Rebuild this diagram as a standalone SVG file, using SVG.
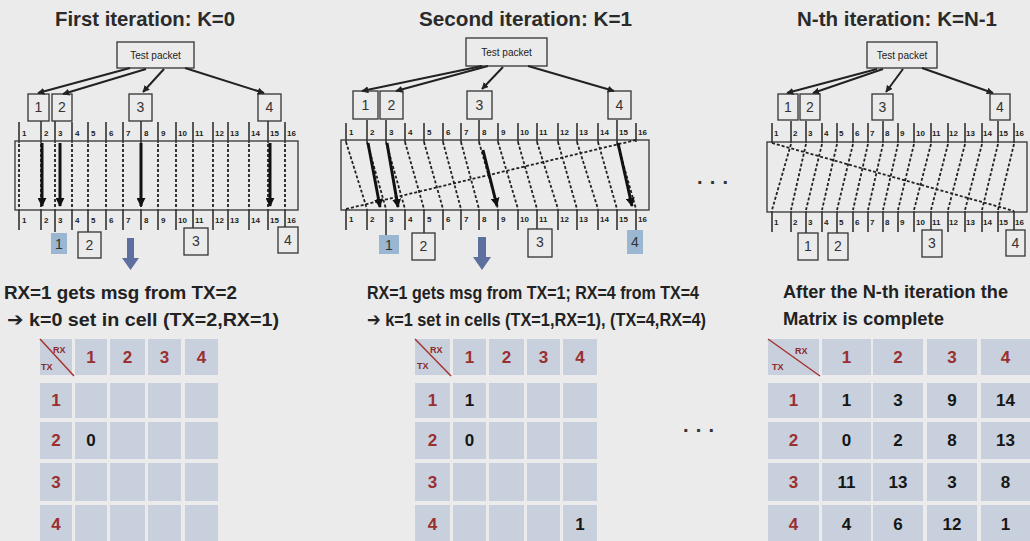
<svg xmlns="http://www.w3.org/2000/svg" width="1030" height="541" viewBox="0 0 1030 541">
<defs>
<marker id="ah" viewBox="0 0 10 10" refX="9" refY="5" markerWidth="7" markerHeight="7" markerUnits="userSpaceOnUse" orient="auto"><path d="M0 0L10 5L0 10z" fill="#222"/></marker>
<marker id="ahb" viewBox="0 0 10 10" refX="9" refY="5" markerWidth="9" markerHeight="9" markerUnits="userSpaceOnUse" orient="auto"><path d="M0 0L10 5L0 10z" fill="#111"/></marker>
</defs>
<style>
.box{fill:none;stroke:#333;stroke-width:1.3}
.blue{fill:#9ab6d0;stroke:none}
.tk{stroke:#333;stroke-width:1.6;fill:none}
.dl{stroke:#222;stroke-width:1.8;stroke-dasharray:3 2;fill:none}
.th{stroke:#111;stroke-width:3;fill:none;marker-end:url(#ahb)}
.ar{stroke:#222;stroke-width:2;fill:none;marker-end:url(#ah)}
.lb{font-family:"Liberation Sans",sans-serif;font-size:8px;font-weight:bold;fill:#222}
.n{font-family:"Liberation Sans",sans-serif;font-size:14px;fill:#333;text-anchor:middle}
.tp{font-family:"Liberation Sans",sans-serif;font-size:10px;fill:#222;text-anchor:middle}
.t{font-family:"Liberation Sans",sans-serif;font-size:21px;font-weight:bold;fill:#2a2a2a}
.b{font-family:"Liberation Sans","DejaVu Sans",sans-serif;font-size:19px;font-weight:bold;fill:#222}
.c{fill:#c9d0dd}
.h{font-family:"Liberation Sans",sans-serif;font-size:17px;font-weight:bold;fill:#9a2f2f;text-anchor:middle}
.v{font-family:"Liberation Sans",sans-serif;font-size:17px;font-weight:bold;fill:#161616;text-anchor:middle}
.cn{font-family:"Liberation Sans",sans-serif;font-size:9px;font-weight:bold;fill:#8a2a2a}
.dg{stroke:#a8332f;stroke-width:1.5}
.barrow{fill:#5d6f9e}
.dots{font-family:"Liberation Sans",sans-serif;font-size:20px;font-weight:bold;fill:#333}
</style>
<rect x="0" y="0" width="1030" height="541" fill="#ebebeb"/>

<!-- Titles -->
<text class="t" x="55" y="26" textLength="180" lengthAdjust="spacingAndGlyphs">First iteration: K=0</text>
<text class="t" x="419" y="26" textLength="213" lengthAdjust="spacingAndGlyphs">Second iteration: K=1</text>
<text class="t" x="797" y="26" textLength="200" lengthAdjust="spacingAndGlyphs">N-th iteration: K=N-1</text>

<!-- ================= PANEL 1 ================= -->
<g id="p1-test-packet"><rect class="box" x="117" y="42" width="77" height="26"/><text class="tp" x="155.5" y="59">Test packet</text></g>
<g id="p1-tx1"><rect class="box" x="28" y="94" width="21" height="27"/><text class="n" x="38.5" y="112">1</text></g>
<g id="p1-tx2"><rect class="box" x="52" y="94" width="20" height="27"/><text class="n" x="62" y="112">2</text></g>
<g id="p1-tx3"><rect class="box" x="129" y="94" width="23" height="27"/><text class="n" x="140.5" y="112">3</text></g>
<g id="p1-tx4"><rect class="box" x="258" y="94" width="23" height="27"/><text class="n" x="269.5" y="112">4</text></g>
<g id="p1-rx1"><rect class="blue" x="51" y="233" width="16" height="21"/><text class="n" x="59" y="249">1</text></g>
<g id="p1-rx2"><rect class="box" x="78" y="232" width="23" height="26"/><text class="n" x="89.5" y="250">2</text></g>
<g id="p1-rx3"><rect class="box" x="184" y="228" width="24" height="27"/><text class="n" x="196" y="246">3</text></g>
<g id="p1-rx4"><rect class="box" x="278" y="227" width="20" height="26"/><text class="n" x="288" y="245">4</text></g>
<g id="p1-bus">
<rect class="box" x="15" y="141" width="283" height="69"/>
<path class="tk" d="M19 122V143M41 121V143M55 121V143M72 122V143M88 122V143M106 122V143M123 122V143M141 121V143M158 122V143M176 122V143M193 122V143M213 122V143M228 122V143M249 122V143M268 121V143M285 122V143"/>
<path class="tk" d="M19 209V230M41 209V230M55 209V232M72 209V230M88 209V232M106 209V230M123 209V230M141 209V230M158 209V230M176 209V230M193 209V228M213 209V230M228 209V230M249 209V230M268 209V230M285 209V227"/>
<g class="lb">
<text x="22" y="136">1</text><text x="44" y="136">2</text><text x="58" y="136">3</text><text x="75" y="136">4</text><text x="91" y="136">5</text><text x="109" y="136">6</text><text x="126" y="136">7</text><text x="144" y="136">8</text><text x="161" y="136">9</text><text x="178" y="136">10</text><text x="195" y="136">11</text><text x="215" y="136">12</text><text x="230" y="136">13</text><text x="251" y="136">14</text><text x="270" y="136">15</text><text x="287" y="136">16</text>
<text x="22" y="223">1</text><text x="44" y="223">2</text><text x="58" y="223">3</text><text x="75" y="223">4</text><text x="91" y="223">5</text><text x="109" y="223">6</text><text x="126" y="223">7</text><text x="144" y="223">8</text><text x="161" y="223">9</text><text x="178" y="223">10</text><text x="195" y="223">11</text><text x="215" y="223">12</text><text x="230" y="223">13</text><text x="251" y="223">14</text><text x="270" y="223">15</text><text x="287" y="223">16</text>
</g>
</g>
<g id="p1-connectors">
<path class="ar" d="M130 68L38 93"/>
<path class="ar" d="M146 69L63 94"/>
<path class="ar" d="M164 69L143 92"/>
<path class="ar" d="M185 68L264 93"/>
<path class="dl" d="M19 144V208M41 144V208M55 144V208M72 144V208M88 144V208M106 144V208M123 144V208M141 144V208M158 144V208M176 144V208M193 144V208M213 144V208M228 144V208M249 144V208M268 144V208M285 144V208"/>
<path class="th" d="M42 143V206"/>
<path class="th" d="M60 143V206"/>
<path class="th" d="M141 143V206"/>
<path class="th" d="M270 143V206"/>
</g>
<path class="barrow" d="M127 238H134V258H139L130.5 270L122 258H127z"/>
<text class="b" x="4" y="299" textLength="233" lengthAdjust="spacingAndGlyphs">RX=1 gets msg from TX=2</text>
<text class="b" x="7" y="326" textLength="272" lengthAdjust="spacingAndGlyphs">➔ k=0 set in cell (TX=2,RX=1)</text>

<!-- ================= PANEL 2 ================= -->
<g id="p2-test-packet"><rect class="box" x="466" y="38" width="81" height="28"/><text class="tp" x="506.5" y="56">Test packet</text></g>
<g id="p2-tx1"><rect class="box" x="353" y="91" width="25" height="28"/><text class="n" x="365.5" y="110">1</text></g>
<g id="p2-tx2"><rect class="box" x="380" y="91" width="23" height="28"/><text class="n" x="391.5" y="110">2</text></g>
<g id="p2-tx3"><rect class="box" x="467" y="91" width="25" height="28"/><text class="n" x="479.5" y="110">3</text></g>
<g id="p2-tx4"><rect class="box" x="608" y="91" width="23" height="28"/><text class="n" x="619.5" y="110">4</text></g>
<g id="p2-rx1"><rect class="blue" x="379" y="235" width="20" height="19"/><text class="n" x="389" y="250">1</text></g>
<g id="p2-rx2"><rect class="box" x="412" y="233" width="23" height="27"/><text class="n" x="423.5" y="251">2</text></g>
<g id="p2-rx3"><rect class="box" x="528" y="229" width="24" height="28"/><text class="n" x="540" y="247">3</text></g>
<g id="p2-rx4"><rect class="blue" x="627" y="230" width="16" height="24"/><text class="n" x="635" y="247">4</text></g>
<g id="p2-bus">
<rect class="box" x="341" y="140" width="308" height="70"/>
<path class="tk" d="M346 123V142M367 120V142M386 120V142M405 123V142M424 123V142M443 123V142M461 123V142M479 120V142M498 123V142M518 123V142M537 123V142M558 123V142M577 123V142M598 123V142M617 120V142M636 123V142"/>
<path class="tk" d="M346 209V230M367 209V230M386 209V235M405 209V230M424 209V233M443 209V230M461 209V230M479 209V230M498 209V230M518 209V230M537 209V229M558 209V230M577 209V230M598 209V230M617 209V230M636 209V230"/>
<g class="lb">
<text x="349" y="135">1</text><text x="370" y="135">2</text><text x="389" y="135">3</text><text x="408" y="135">4</text><text x="427" y="135">5</text><text x="446" y="135">6</text><text x="464" y="135">7</text><text x="482" y="135">8</text><text x="501" y="135">9</text><text x="520" y="135">10</text><text x="539" y="135">11</text><text x="560" y="135">12</text><text x="579" y="135">13</text><text x="600" y="135">14</text><text x="619" y="135">15</text><text x="638" y="135">16</text>
<text x="349" y="222">1</text><text x="370" y="222">2</text><text x="389" y="222">3</text><text x="408" y="222">4</text><text x="427" y="222">5</text><text x="446" y="222">6</text><text x="464" y="222">7</text><text x="482" y="222">8</text><text x="501" y="222">9</text><text x="520" y="222">10</text><text x="539" y="222">11</text><text x="560" y="222">12</text><text x="579" y="222">13</text><text x="600" y="222">14</text><text x="619" y="222">15</text><text x="638" y="222">16</text>
</g>
</g>
<g id="p2-connectors">
<path class="ar" d="M482 66L362 91"/>
<path class="ar" d="M488 66L396 91"/>
<path class="ar" d="M503 67L482 89"/>
<path class="ar" d="M528 66L614 91"/>
<path class="dl" d="M346 142L367 209M367 142L386 209M386 142L405 209M405 142L424 209M424 142L443 209M443 142L461 209M461 142L479 209M479 142L498 209M498 142L518 209M518 142L537 209M537 142L558 209M558 142L577 209M577 142L598 209M598 142L617 209M617 142L636 209M636 140L346 209"/>
<path class="th" d="M368 143L380 207"/>
<path class="th" d="M387 143L398 207"/>
<path class="th" d="M483 150L497 206"/>
<path class="th" d="M618 143L632 206"/>
</g>
<path class="barrow" d="M478 237H486V257H491L482 270L473 257H478z"/>
<text class="b" x="367" y="299" textLength="332" lengthAdjust="spacingAndGlyphs">RX=1 gets msg from TX=1; RX=4 from TX=4</text>
<text class="b" x="367" y="326" textLength="339" lengthAdjust="spacingAndGlyphs">➔ k=1 set in cells (TX=1,RX=1), (TX=4,RX=4)</text>

<text class="dots" x="697" y="184" textLength="31" lengthAdjust="spacing">...</text>

<!-- ================= PANEL 3 ================= -->
<g id="p3-test-packet"><rect class="box" x="867" y="42" width="70" height="26"/><text class="tp" x="902" y="59">Test packet</text></g>
<g id="p3-tx1"><rect class="box" x="778" y="94" width="20" height="26"/><text class="n" x="788" y="112">1</text></g>
<g id="p3-tx2"><rect class="box" x="800" y="94" width="20" height="26"/><text class="n" x="810" y="112">2</text></g>
<g id="p3-tx3"><rect class="box" x="872" y="94" width="21" height="26"/><text class="n" x="882.5" y="112">3</text></g>
<g id="p3-tx4"><rect class="box" x="990" y="94" width="20" height="26"/><text class="n" x="1000" y="112">4</text></g>
<g id="p3-rx1"><rect class="box" x="798" y="233" width="20" height="27"/><text class="n" x="808" y="251">1</text></g>
<g id="p3-rx2"><rect class="box" x="828" y="233" width="20" height="27"/><text class="n" x="838" y="251">2</text></g>
<g id="p3-rx3"><rect class="box" x="922" y="230" width="20" height="27"/><text class="n" x="932" y="248">3</text></g>
<g id="p3-rx4"><rect class="box" x="1006" y="230" width="19" height="26"/><text class="n" x="1015.5" y="248">4</text></g>
<g id="p3-bus">
<rect class="box" x="767" y="142" width="260" height="70"/>
<path class="tk" d="M772 123V143M791 121V143M806 121V143M822 123V143M837 123V143M853 123V143M868 123V143M883 121V143M898 123V143M914 123V143M931 123V143M948 123V143M965 123V143M982 123V143M998 121V143M1014 123V143"/>
<path class="tk" d="M772 211V232M791 211V232M806 211V233M822 211V232M837 211V233M853 211V232M868 211V232M883 211V232M898 211V232M914 211V232M931 211V230M948 211V232M965 211V232M982 211V232M998 211V232M1014 211V230"/>
<g class="lb">
<text x="774" y="136">1</text><text x="793" y="136">2</text><text x="808" y="136">3</text><text x="824" y="136">4</text><text x="839" y="136">5</text><text x="855" y="136">6</text><text x="870" y="136">7</text><text x="885" y="136">8</text><text x="900" y="136">9</text><text x="916" y="136">10</text><text x="932" y="136">11</text><text x="949" y="136">12</text><text x="966" y="136">13</text><text x="983" y="136">14</text><text x="999" y="136">15</text><text x="1015" y="136">16</text>
<text x="774" y="225">1</text><text x="793" y="225">2</text><text x="808" y="225">3</text><text x="824" y="225">4</text><text x="839" y="225">5</text><text x="855" y="225">6</text><text x="870" y="225">7</text><text x="885" y="225">8</text><text x="900" y="225">9</text><text x="916" y="225">10</text><text x="932" y="225">11</text><text x="949" y="225">12</text><text x="966" y="225">13</text><text x="983" y="225">14</text><text x="999" y="225">15</text><text x="1015" y="225">16</text>
</g>
</g>
<g id="p3-connectors">
<path class="ar" d="M877 69L787 93"/>
<path class="ar" d="M883 69L813 93"/>
<path class="ar" d="M903 69L886 92"/>
<path class="ar" d="M922 68L993 93"/>
<path class="dl" d="M791 144L772 210M806 144L791 210M822 144L806 210M837 144L822 210M853 144L837 210M868 144L853 210M883 144L868 210M898 144L883 210M914 144L898 210M931 144L914 210M948 144L931 210M965 144L948 210M982 144L965 210M998 144L982 210M1014 144L998 210M772 143L1014 211"/>
</g>
<text class="b" x="783" y="298" textLength="225" lengthAdjust="spacingAndGlyphs">After the N-th iteration the</text>
<text class="b" x="783" y="325" textLength="161" lengthAdjust="spacingAndGlyphs">Matrix is complete</text>

<!-- ================= TABLE 1 ================= -->
<g id="table1">
<g class="c">
<rect x="40" y="339" width="32" height="36"/><rect x="75" y="339" width="32" height="36"/><rect x="110" y="339" width="35" height="36"/><rect x="148" y="339" width="33" height="36"/><rect x="185" y="339" width="33" height="36"/>
<rect x="40" y="383" width="32" height="35"/><rect x="75" y="383" width="32" height="35"/><rect x="110" y="383" width="35" height="35"/><rect x="148" y="383" width="33" height="35"/><rect x="185" y="383" width="33" height="35"/>
<rect x="40" y="422" width="32" height="37"/><rect x="75" y="422" width="32" height="37"/><rect x="110" y="422" width="35" height="37"/><rect x="148" y="422" width="33" height="37"/><rect x="185" y="422" width="33" height="37"/>
<rect x="40" y="463" width="32" height="38"/><rect x="75" y="463" width="32" height="38"/><rect x="110" y="463" width="35" height="38"/><rect x="148" y="463" width="33" height="38"/><rect x="185" y="463" width="33" height="38"/>
<rect x="40" y="505" width="32" height="38"/><rect x="75" y="505" width="32" height="38"/><rect x="110" y="505" width="35" height="38"/><rect x="148" y="505" width="33" height="38"/><rect x="185" y="505" width="33" height="38"/>
</g>
<line class="dg" x1="40" y1="339" x2="74" y2="376"/>
<text class="cn" x="53" y="353">RX</text><text class="cn" x="41" y="370">TX</text>
<text class="h" x="91" y="363">1</text><text class="h" x="127.5" y="363">2</text><text class="h" x="164.5" y="363">3</text><text class="h" x="201.5" y="363">4</text>
<text class="h" x="56" y="406">1</text><text class="h" x="56" y="446">2</text><text class="h" x="56" y="488">3</text><text class="h" x="56" y="530">4</text>
<text class="v" x="91" y="446">0</text>
</g>

<!-- ================= TABLE 2 ================= -->
<g id="table2">
<g class="c">
<rect x="415" y="339" width="35" height="36"/><rect x="453" y="339" width="33" height="36"/><rect x="489" y="339" width="35" height="36"/><rect x="527" y="339" width="33" height="36"/><rect x="563" y="339" width="34" height="36"/>
<rect x="415" y="383" width="35" height="35"/><rect x="453" y="383" width="33" height="35"/><rect x="489" y="383" width="35" height="35"/><rect x="527" y="383" width="33" height="35"/><rect x="563" y="383" width="34" height="35"/>
<rect x="415" y="422" width="35" height="37"/><rect x="453" y="422" width="33" height="37"/><rect x="489" y="422" width="35" height="37"/><rect x="527" y="422" width="33" height="37"/><rect x="563" y="422" width="34" height="37"/>
<rect x="415" y="463" width="35" height="38"/><rect x="453" y="463" width="33" height="38"/><rect x="489" y="463" width="35" height="38"/><rect x="527" y="463" width="33" height="38"/><rect x="563" y="463" width="34" height="38"/>
<rect x="415" y="505" width="35" height="38"/><rect x="453" y="505" width="33" height="38"/><rect x="489" y="505" width="35" height="38"/><rect x="527" y="505" width="33" height="38"/><rect x="563" y="505" width="34" height="38"/>
</g>
<line class="dg" x1="415" y1="339" x2="451" y2="376"/>
<text class="cn" x="430" y="353">RX</text><text class="cn" x="417" y="369">TX</text>
<text class="h" x="469.5" y="363">1</text><text class="h" x="506.5" y="363">2</text><text class="h" x="543.5" y="363">3</text><text class="h" x="580" y="363">4</text>
<text class="h" x="432.5" y="406">1</text><text class="h" x="432.5" y="446">2</text><text class="h" x="432.5" y="488">3</text><text class="h" x="432.5" y="530">4</text>
<text class="v" x="469.5" y="406">1</text>
<text class="v" x="469.5" y="446">0</text>
<text class="v" x="580" y="530">1</text>
</g>

<text class="dots" x="683" y="432" textLength="31" lengthAdjust="spacing">...</text>

<!-- ================= TABLE 3 ================= -->
<g id="table3">
<g class="c">
<rect x="768" y="339" width="51" height="36"/><rect x="822" y="339" width="49" height="36"/><rect x="873" y="339" width="50" height="36"/><rect x="927" y="339" width="50" height="36"/><rect x="981" y="339" width="49" height="36"/>
<rect x="768" y="383" width="51" height="35"/><rect x="822" y="383" width="49" height="35"/><rect x="873" y="383" width="50" height="35"/><rect x="927" y="383" width="50" height="35"/><rect x="981" y="383" width="49" height="35"/>
<rect x="768" y="422" width="51" height="37"/><rect x="822" y="422" width="49" height="37"/><rect x="873" y="422" width="50" height="37"/><rect x="927" y="422" width="50" height="37"/><rect x="981" y="422" width="49" height="37"/>
<rect x="768" y="463" width="51" height="38"/><rect x="822" y="463" width="49" height="38"/><rect x="873" y="463" width="50" height="38"/><rect x="927" y="463" width="50" height="38"/><rect x="981" y="463" width="49" height="38"/>
<rect x="768" y="505" width="51" height="38"/><rect x="822" y="505" width="49" height="38"/><rect x="873" y="505" width="50" height="38"/><rect x="927" y="505" width="50" height="38"/><rect x="981" y="505" width="49" height="38"/>
</g>
<line class="dg" x1="768" y1="339" x2="820" y2="376"/>
<text class="cn" x="795" y="354">RX</text><text class="cn" x="772" y="370">TX</text>
<text class="h" x="846.5" y="363">1</text><text class="h" x="898" y="363">2</text><text class="h" x="952" y="363">3</text><text class="h" x="1005.5" y="363">4</text>
<text class="h" x="793.5" y="406">1</text><text class="h" x="793.5" y="446">2</text><text class="h" x="793.5" y="488">3</text><text class="h" x="793.5" y="530">4</text>
<text class="v" x="846.5" y="406">1</text><text class="v" x="898" y="406">3</text><text class="v" x="952" y="406">9</text><text class="v" x="1005.5" y="406">14</text>
<text class="v" x="846.5" y="446">0</text><text class="v" x="898" y="446">2</text><text class="v" x="952" y="446">8</text><text class="v" x="1005.5" y="446">13</text>
<text class="v" x="846.5" y="488">11</text><text class="v" x="898" y="488">13</text><text class="v" x="952" y="488">3</text><text class="v" x="1005.5" y="488">8</text>
<text class="v" x="846.5" y="530">4</text><text class="v" x="898" y="530">6</text><text class="v" x="952" y="530">12</text><text class="v" x="1005.5" y="530">1</text>
</g>
</svg>
